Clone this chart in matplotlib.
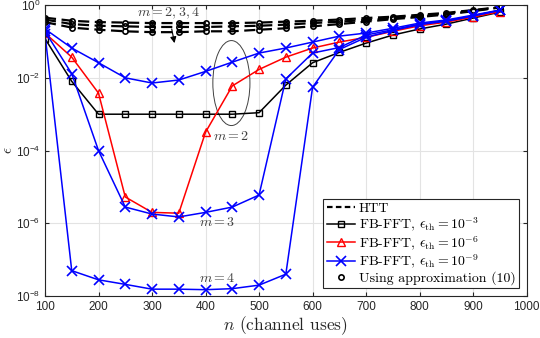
import matplotlib
matplotlib.use("Agg")
import matplotlib.pyplot as plt
from matplotlib.patches import Ellipse
from matplotlib.lines import Line2D

# dados
n = [100, 150, 200, 250, 300, 350, 400, 450, 500, 550, 600, 650, 700, 750, 800, 850, 900, 950]

# HTT (m = 2, 3, 4)
htt_m2 = [0.45, 0.37, 0.34, 0.33, 0.32, 0.32, 0.32, 0.32, 0.33, 0.35, 0.37, 0.40, 0.44, 0.48, 0.54, 0.61, 0.73, 0.88]
htt_m3 = [0.40, 0.30, 0.27, 0.26, 0.25, 0.25, 0.25, 0.26, 0.27, 0.29, 0.32, 0.35, 0.39, 0.44, 0.50, 0.58, 0.70, 0.87]
htt_m4 = [0.34, 0.24, 0.21, 0.19, 0.18, 0.18, 0.19, 0.19, 0.21, 0.23, 0.26, 0.30, 0.35, 0.41, 0.47, 0.55, 0.68, 0.86]

# FB-FFT
fb_e3 = [0.12, 0.008, 1e-3, 1e-3, 1e-3, 1e-3, 1e-3, 1e-3, 1.1e-3, 0.0063, 0.026, 0.05, 0.09, 0.15, 0.22, 0.30, 0.44, 0.64]
fb_e6 = [0.17, 0.037, 0.0038, 5.3e-6, 2e-6, 1.9e-6, 3.2e-4, 0.006, 0.017, 0.037, 0.066, 0.096, 0.13, 0.19, 0.27, 0.34, 0.47, 0.66]
fb_e9_m2 = [0.22, 0.066, 0.026, 0.01, 0.0072, 0.0087, 0.015, 0.027, 0.048, 0.066, 0.096, 0.14, 0.17, 0.23, 0.32, 0.39, 0.53, 0.73]
fb_e9_m3 = [0.19, 0.013, 1e-4, 2.8e-6, 1.8e-6, 1.5e-6, 2e-6, 2.8e-6, 6e-6, 0.0093, 0.048, 0.068, 0.15, 0.21, 0.30, 0.37, 0.51, 0.72]
fb_e9_m4 = [0.16, 5e-8, 2.8e-8, 2.1e-8, 1.55e-8, 1.55e-8, 1.5e-8, 1.6e-8, 2e-8, 4e-8, 0.0055, 0.06, 0.13, 0.20, 0.29, 0.36, 0.50, 0.72]

plt.rcParams['font.family'] = ['Liberation Sans', 'DejaVu Sans']
plt.rcParams['mathtext.fontset'] = 'cm'

cinza = '#262626'

fig = plt.figure(figsize=(5.4, 3.38), dpi=100)
ax = fig.add_axes([0.0833, 0.124, 0.892, 0.861])

# linhas HTT tracejadas
for serie in [htt_m2, htt_m3, htt_m4]:
    ax.plot(n, serie, color='black', lw=1.6, dashes=(5, 2.5))
# aproximacao (10)
for serie in [htt_m2, htt_m3, htt_m4]:
    ax.plot(n, serie, ls='none', marker='o', ms=3.8, mfc='none', mec='black', mew=1.2)

ax.plot(n, fb_e3, color='black', lw=1.1, marker='s', ms=5, mfc='none', mew=1.0)
ax.plot(n, fb_e6, color='red', lw=1.1, marker='^', ms=6, mfc='none', mew=1.0)
for serie in [fb_e9_m2, fb_e9_m3, fb_e9_m4]:
    ax.plot(n, serie, color='blue', lw=1.1, marker='x', ms=7, mew=1.2)

ax.set_yscale('log')
ax.set_xlim(100, 1000)
ax.set_ylim(1e-8, 1)
ax.set_xticks(range(100, 1001, 100))
ax.set_yticks([1e-8, 1e-6, 1e-4, 1e-2, 1])
ax.minorticks_off()
ax.grid(True, color='#e3e3e3', lw=0.8)
ax.set_axisbelow(True)
ax.tick_params(direction='in', top=True, right=True, colors=cinza, labelsize=8.5, length=3)
for s in ax.spines.values():
    s.set_color(cinza)
    s.set_linewidth(0.8)

ax.set_xlabel(r'$n$ (channel uses)', family='cmr10', fontsize=12.5, color=cinza, labelpad=1)
ax.set_ylabel(r'$\epsilon$', fontsize=11, color=cinza, labelpad=0)

# anotacoes
ax.annotate(r'$m = 2,3,4$', xy=(342, 0.09), xytext=(331, 0.60), ha='center', va='center',
            fontsize=10, color='#404040',
            arrowprops=dict(arrowstyle='-|>', color='black', lw=0.8, mutation_scale=9, shrinkA=4, shrinkB=0))
ax.text(448, 2.5e-4, r'$m = 2$', ha='center', va='center', fontsize=10, color='#404040')
ax.text(422, 1.1e-6, r'$m = 3$', ha='center', va='center', fontsize=10, color='#404040')
ax.text(422, 3.1e-8, r'$m = 4$', ha='center', va='center', fontsize=10, color='#404040')
ax.add_patch(Ellipse((0.387, 0.732), 0.077, 0.292, transform=ax.transAxes,
                     fill=False, edgecolor='#404040', lw=0.7))

# legenda
handles = [
    Line2D([], [], color='black', lw=1.6, dashes=(2.5, 1.5)),
    Line2D([], [], color='black', lw=1.1, marker='s', ms=5, mfc='none'),
    Line2D([], [], color='red', lw=1.1, marker='^', ms=6, mfc='none'),
    Line2D([], [], color='blue', lw=1.1, marker='x', ms=7, mew=1.2),
    Line2D([], [], ls='none', marker='o', ms=3.8, mfc='none', mec='black', mew=1.2),
]
labels = ['HTT',
          r'FB-FFT, $\epsilon_{\rm th} = 10^{-3}$',
          r'FB-FFT, $\epsilon_{\rm th} = 10^{-6}$',
          r'FB-FFT, $\epsilon_{\rm th} = 10^{-9}$',
          'Using approximation (10)']
leg = ax.legend(handles, labels, loc='lower right', bbox_to_anchor=(0.984, 0.027),
                borderaxespad=0, fancybox=False, framealpha=1, edgecolor=cinza,
                prop={'family': 'cmr10', 'size': 10}, handlelength=2.0,
                handletextpad=0.3, labelspacing=0.05, borderpad=0.25)
leg.get_frame().set_linewidth(0.8)

fig.savefig('out.png', dpi=100)
